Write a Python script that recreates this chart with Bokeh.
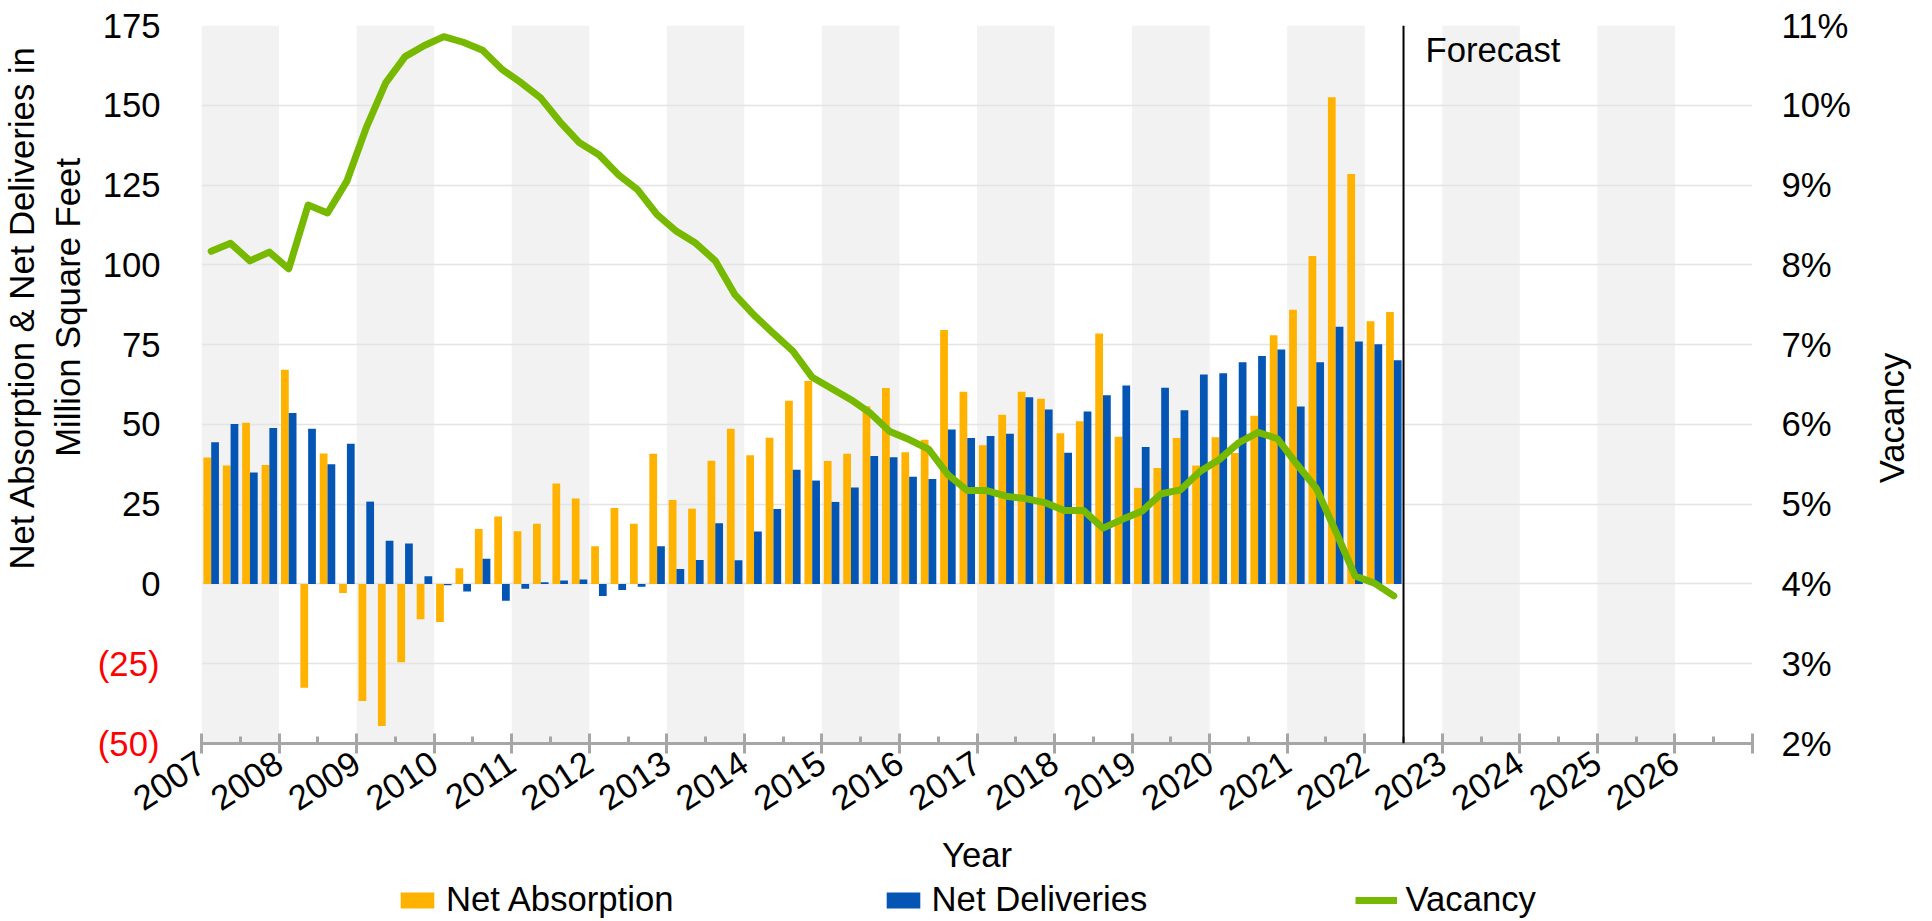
import math
from bokeh.plotting import figure
from bokeh.layouts import column, row
from bokeh.models import (Range1d, LinearAxis, FixedTicker, PrintfTickFormatter,
                          BoxAnnotation, Span, Label, Legend, LegendItem, ColumnDataSource)
from bokeh.embed import file_html
from bokeh.resources import INLINE

FONT = "Liberation Sans"
FS = "34.7px"
NB = "\u00a0"

# ---------------- data ----------------
axis_years = list(range(2007, 2028))
shaded_years = list(range(2007, 2027, 2))
forecast_start = 2022.5

quarter_years = [y for y in range(2007, 2023) for _ in range(4)][:62]
quarter_nums = [q for _ in range(2007, 2023) for q in (1, 2, 3, 4)][:62]

net_absorption = [
    39.6, 37.1, 50.5, 37.3,
    67.1, -32.5, 40.9, -2.8,
    -36.7, -44.5, -24.5, -11.1,
    -11.9, 4.9, 17.2, 21.1,
    16.5, 18.9, 31.5, 26.8,
    11.8, 23.8, 18.9, 40.8,
    26.3, 23.6, 38.6, 48.6,
    40.3, 45.8, 57.4, 63.6,
    38.5, 40.8, 55.7, 61.4,
    41.3, 45.2, 79.6, 60.2,
    43.5, 53.0, 60.2, 58.0,
    47.2, 51.0, 78.5, 46.1,
    30.1, 36.3, 45.7, 37.1,
    46.0, 41.0, 52.7, 77.9,
    85.9, 102.8, 152.5, 128.5,
    82.3, 85.2,
]
net_deliveries = [
    44.4, 50.1, 34.9, 48.9,
    53.6, 48.6, 37.5, 43.9,
    25.8, 13.5, 12.7, 2.4,
    -0.4, -2.4, 7.9, -5.3,
    -1.5, 0.5, 1.1, 1.4,
    -3.8, -1.9, -0.9, 11.8,
    4.7, 7.5, 19.0, 7.4,
    16.4, 23.5, 35.8, 32.4,
    25.7, 30.2, 40.1, 39.7,
    33.6, 32.9, 48.4, 45.7,
    46.4, 47.1, 58.5, 54.7,
    41.1, 54.0, 59.1, 62.2,
    42.9, 61.5, 54.4, 65.6,
    66.0, 69.5, 71.4, 73.5,
    55.6, 69.5, 80.6, 76.0,
    75.1, 70.1,
]
vacancy = [
    8.17, 8.27, 8.05, 8.16,
    7.95, 8.75, 8.65, 9.05,
    9.72, 10.28, 10.61, 10.75,
    10.86, 10.79, 10.69, 10.45,
    10.28, 10.09, 9.79, 9.53,
    9.38, 9.13, 8.94, 8.63,
    8.42, 8.27, 8.05, 7.63,
    7.37, 7.14, 6.92, 6.59,
    6.45, 6.31, 6.14, 5.91,
    5.81, 5.69, 5.37, 5.17,
    5.17, 5.10, 5.07, 5.02,
    4.92, 4.92, 4.70, 4.81,
    4.91, 5.13, 5.18, 5.41,
    5.56, 5.77, 5.90, 5.82,
    5.50, 5.20, 4.66, 4.10,
    4.01, 3.85,
]

left_ticks = [0, 25, 50, 75, 100, 125, 150, 175]
grid_ticks = [-25, 0, 25, 50, 75, 100, 125, 150, 175]
neg_ticks = [-25, -50]
neg_labels = {-25: "(25)", -50: "(50)"}
vac_ticks = list(range(2, 12))
left_title = ["Net Absorption & Net Deliveries in", "Million Square Feet"]
right_title = "Vacancy"
series_names = ["Net Absorption", "Net Deliveries", "Vacancy"]

ORANGE = "#FFB200"
BLUE = "#0555B5"
GREEN = "#76B900"

# ---------------- main figure ----------------
xc = [y + (q - 0.5) / 4 for y, q in zip(quarter_years, quarter_nums)]
src = ColumnDataSource(dict(
    xa=[x - 0.05 for x in xc], xd=[x + 0.05 for x in xc], xv=xc,
    na=net_absorption, nd=net_deliveries, vac=vacancy,
))

p = figure(width=1868, height=877, x_range=Range1d(2007, 2027), y_range=Range1d(-50, 175),
           output_backend="svg", toolbar_location=None,
           min_border_left=199, min_border_right=116, min_border_top=25, min_border_bottom=134)
p.outline_line_color = None
p.background_fill_color = "white"
p.extra_y_ranges = {"vac": Range1d(2, 11)}

for y in shaded_years:
    p.add_layout(BoxAnnotation(left=y, right=y + 1, fill_color="#F2F2F2", fill_alpha=1.0,
                               line_color=None, level="image"))

p.xgrid.grid_line_color = None
p.ygrid.ticker = FixedTicker(ticks=grid_ticks)
p.ygrid.grid_line_color = "#E4E4E4"
p.ygrid.grid_line_width = 1.6

p.vbar(x="xa", top="na", bottom=0, width=0.1, source=src, fill_color=ORANGE, line_color=None)
p.vbar(x="xd", top="nd", bottom=0, width=0.1, source=src, fill_color=BLUE, line_color=None)
p.line(x="xv", y="vac", source=src, y_range_name="vac", line_color=GREEN, line_width=7,
       line_join="round", line_cap="round")

# x axis
xa = p.xaxis[0]
xa.ticker = FixedTicker(ticks=axis_years, minor_ticks=[y + 0.5 for y in axis_years[:-1]])
xa.major_label_overrides = {2027: ""}
xa.major_label_orientation = 0.58
xa.axis_line_color = "#A6A6A6"
xa.axis_line_width = 3
xa.major_tick_line_color = "#A6A6A6"
xa.major_tick_line_width = 3
xa.major_tick_in = 10
xa.major_tick_out = 10
xa.minor_tick_line_color = "#A6A6A6"
xa.minor_tick_line_width = 3
xa.minor_tick_in = 7
xa.minor_tick_out = 0
xa.major_label_standoff = 6
xa.major_label_text_font = FONT
xa.major_label_text_font_size = FS
xa.major_label_text_color = "black"
xa.axis_label = "Year"
xa.axis_label_text_font = FONT
xa.axis_label_text_font_size = FS
xa.axis_label_text_font_style = "normal"
xa.axis_label_text_color = "black"
xa.axis_label_standoff = 11


def plain_axis(ax, standoff):
    ax.axis_line_color = None
    ax.major_tick_line_color = None
    ax.minor_tick_line_color = None
    ax.major_tick_out = 0
    ax.major_tick_in = 0
    ax.minor_tick_out = 0
    ax.minor_tick_in = 0
    ax.major_label_standoff = standoff
    ax.major_label_text_font = FONT
    ax.major_label_text_font_size = FS


# left axis (positive values, black)
ya = p.yaxis[0]
ya.ticker = FixedTicker(ticks=left_ticks)
plain_axis(ya, 41)
ya.major_label_text_color = "black"

# second left axis (negative values, red, in parentheses) pulled back onto the same column
na_axis = LinearAxis(ticker=FixedTicker(ticks=neg_ticks), major_label_overrides=neg_labels)
plain_axis(na_axis, -60)
na_axis.major_label_text_color = "#FF0000"
na_axis.axis_label = "\n".join(NB * 16 + line for line in left_title)
na_axis.axis_label_text_font = FONT
na_axis.axis_label_text_font_size = FS
na_axis.axis_label_text_font_style = "normal"
na_axis.axis_label_text_color = "black"
na_axis.axis_label_standoff = 8
p.add_layout(na_axis, "left")

# right axis
ra = LinearAxis(y_range_name="vac", ticker=FixedTicker(ticks=vac_ticks),
                formatter=PrintfTickFormatter(format="%d%%"))
plain_axis(ra, 29)
ra.major_label_text_color = "black"
p.add_layout(ra, "right")

# forecast
p.add_layout(Span(location=forecast_start, dimension="height", line_color="black", line_width=2))
p.add_layout(Label(x=forecast_start, y=175, x_offset=22, y_offset=-24, text="Forecast",
                   text_align="left", text_baseline="middle",
                   text_font=FONT, text_font_size=FS, text_color="black"))

# ---------------- right title strip (reads bottom to top) ----------------
rs = figure(width=46, height=877, x_range=Range1d(0, 1), y_range=p.y_range,
            output_backend="svg", toolbar_location=None,
            min_border_left=0, min_border_right=0, min_border_top=25, min_border_bottom=134)
rs.axis.visible = False
rs.grid.visible = False
rs.outline_line_color = None
rs.add_layout(Label(x=0.5, y=52, text=right_title, angle=math.pi / 2,
                    text_align="center", text_baseline="middle",
                    text_font=FONT, text_font_size=FS, text_color="black"))

# ---------------- legend strip ----------------
lf = figure(width=1916, height=42, x_range=Range1d(0, 1), y_range=Range1d(0, 1),
            output_backend="svg", toolbar_location=None,
            min_border_left=199, min_border_right=164, min_border_top=0, min_border_bottom=0)
lf.axis.visible = False
lf.grid.visible = False
lf.outline_line_color = None
proxy = ColumnDataSource(dict(x=[float("nan")], y=[float("nan")]))
g_abs = lf.vbar(x="x", top="y", width=0.1, source=proxy, fill_color=ORANGE, line_color=None)
g_del = lf.vbar(x="x", top="y", width=0.1, source=proxy, fill_color=BLUE, line_color=None)
g_vac = lf.line(x="x", y="y", source=proxy, line_color=GREEN, line_width=7)
legend = Legend(items=[LegendItem(label=n, renderers=[r]) for n, r in zip(series_names, [g_abs, g_del, g_vac])],
                location=(197, 0), orientation="horizontal",
                glyph_width=42, glyph_height=20, label_standoff=8, spacing=208,
                padding=0, margin=0, border_line_alpha=0, background_fill_alpha=0,
                label_text_font=FONT, label_text_font_size=FS, label_text_color="black")
lf.add_layout(legend, "center")

layout = column(row(p, rs, spacing=0), lf, spacing=0)
open("out.html", "w").write(file_html(layout, INLINE))
